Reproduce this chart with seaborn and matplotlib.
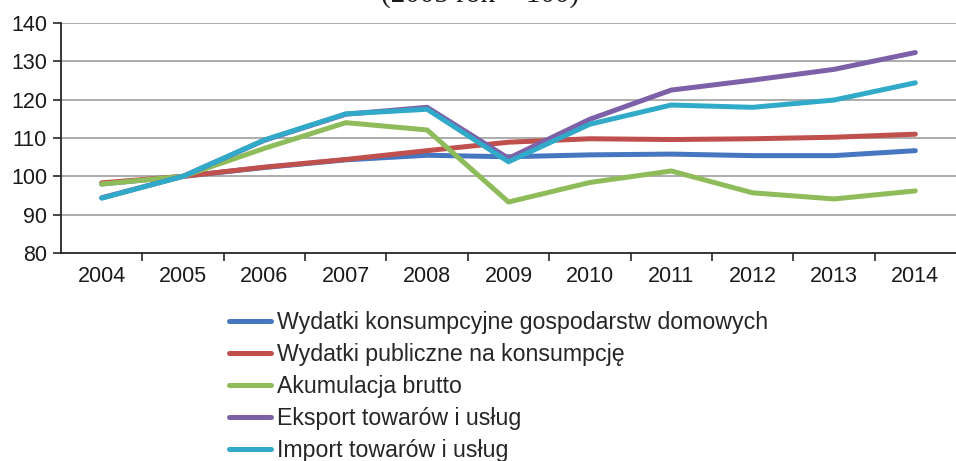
import matplotlib
matplotlib.use("Agg")
import matplotlib.pyplot as plt
import seaborn as sns
import pandas as pd
from matplotlib.ticker import FixedLocator

years = [2004, 2005, 2006, 2007, 2008, 2009, 2010, 2011, 2012, 2013, 2014]
series_names = [
    "Wydatki konsumpcyjne gospodarstw domowych",
    "Wydatki publiczne na konsumpcję",
    "Akumulacja brutto",
    "Eksport towarów i usług",
    "Import towarów i usług",
]
household = [98.0, 100.0, 102.3, 104.3, 105.5, 105.1, 105.6, 105.8, 105.4, 105.4, 106.7]
public = [98.3, 100.0, 102.4, 104.4, 106.7, 108.9, 109.8, 109.6, 109.8, 110.2, 111.0]
accumulation = [98.0, 100.0, 107.3, 114.0, 112.1, 93.3, 98.4, 101.4, 95.7, 94.1, 96.2]
exports = [94.4, 100.0, 109.4, 116.2, 118.0, 104.7, 114.9, 122.5, 125.1, 127.9, 132.3]
imports = [94.3, 100.0, 109.5, 116.3, 117.5, 103.8, 113.6, 118.6, 118.0, 119.9, 124.4]
y_ticks = [80, 90, 100, 110, 120, 130, 140]
colors = ["#4677c0", "#c0504d", "#8fbc5a", "#7d61a8", "#31aac9"]

values = [household, public, accumulation, exports, imports]
df = pd.DataFrame({
    "year": years * len(series_names),
    "value": [v for vals in values for v in vals],
    "series": [n for n in series_names for _ in years],
})

sns.set_style("white")
plt.rcParams["font.family"] = ["Liberation Sans", "DejaVu Sans"]

fig = plt.figure(figsize=(9.56, 4.61), dpi=100)
ax = fig.add_axes([61 / 956, 1 - 253 / 461, 1 - 61 / 956, (253 - 23) / 461])

sns.lineplot(data=df, x="year", y="value", hue="series", hue_order=series_names,
             palette=colors, linewidth=3.6, ax=ax, legend=False, zorder=3)

ax.set_xlim(2003.5, 2014.5)
ax.set_ylim(80, 140)
ax.set_yticks(y_ticks)
ax.set_xticks(years)
ax.set_xticklabels([str(y) for y in years])
ax.xaxis.set_minor_locator(FixedLocator([y + 0.5 for y in years[:-1]]))
ax.set_xlabel("")
ax.set_ylabel("")

for y in y_ticks[1:]:
    ax.axhline(y, color="#a6a6a6", linewidth=1.3, zorder=1)

for s in ["top", "right"]:
    ax.spines[s].set_visible(False)
for s in ["left", "bottom"]:
    ax.spines[s].set_color("#262626")
    ax.spines[s].set_linewidth(1.3)
    ax.spines[s].set_zorder(4)

ax.tick_params(axis="y", which="major", direction="out", length=6, width=1.2,
               color="#262626", labelsize=15.5, labelcolor="#1a1a1a", pad=4, left=True)
ax.tick_params(axis="x", which="major", length=0, labelsize=15.5, labelcolor="#1a1a1a", pad=9)
ax.tick_params(axis="x", which="minor", direction="out", length=6, width=1.2,
               color="#262626", bottom=True)

fig.text(480 / 956, 1 - 2 / 461, "(2005 rok = 100)", ha="center", va="baseline",
         fontsize=21, family=["Liberation Serif", "DejaVu Serif"], color="#1a1a1a")

handles = [plt.Line2D([], [], color=c, linewidth=3.6) for c in colors]
fig.legend(handles, series_names, loc="upper left",
           bbox_to_anchor=(229 / 956, 1 - 311 / 461), frameon=False,
           fontsize=16.7, handlelength=1.8, handletextpad=0.26,
           labelspacing=0.39, borderpad=0, borderaxespad=0)

fig.savefig("out.png", dpi=100)
